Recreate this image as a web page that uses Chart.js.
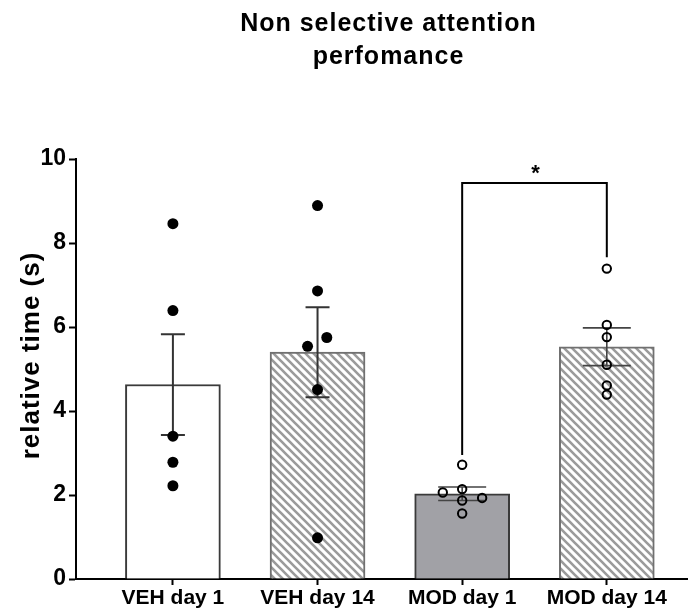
<!DOCTYPE html>
<html>
<head>
<meta charset="utf-8">
<script src="https://cdn.jsdelivr.net/npm/chart.js@4.4.1/dist/chart.umd.min.js"></script>
<style>
html,body{margin:0;padding:0;background:#fff;}
#wrap{width:694px;height:613px;position:relative;}
</style>
</head>
<body>
<div id="wrap"><canvas id="c" width="694" height="613"></canvas></div>
<script>
// ---- data ----
const categories = ['VEH day 1', 'VEH day 14', 'MOD day 1', 'MOD day 14'];
const means = [4.63, 5.40, 2.03, 5.53];
const sems = [1.20, 1.07, 0.16, 0.45];
const vehDay1 = [8.46, 6.39, 3.40, 2.78, 2.22];
const vehDay14 = [8.89, 6.86, 5.75, 5.54, 4.51, 0.98];
const modDay1 = [2.72, 2.14, 2.06, 1.87, 1.93, 1.56];
const modDay14 = [7.39, 6.05, 5.76, 5.10, 4.61, 4.39];
const yTicks = [0, 2, 4, 6, 8, 10];
const sigPair = [2, 3];
const sigLabel = '*';
const sigTop = 9.43;
const sigLegEnds = [2.95, 7.66];
const titleLines = ['Non selective attention', 'perfomance'];
const yTitle = 'relative time (s)';

// ---- styling (not data) ----
const FONT = "'Liberation Sans', Arial, Helvetica, sans-serif";
const dotOffsets = [
  [0, 0, 0, 0, 0],
  [0, 0, 0.064, -0.069, 0, 0],
  [0, 0, -0.134, 0, 0.138, 0],
  [0, 0, 0, 0, 0, 0]
];
const capHalf = [12, 12, 24, 24];

function hatchPattern() {
  const s = 8;
  const p = document.createElement('canvas');
  p.width = s; p.height = s;
  const g = p.getContext('2d');
  g.fillStyle = '#ffffff';
  g.fillRect(0, 0, s, s);
  g.strokeStyle = '#9b9b9b';
  g.lineWidth = 2.6;
  g.beginPath();
  g.moveTo(-2, -2); g.lineTo(s + 2, s + 2);
  g.moveTo(-2, s - 2); g.lineTo(2, s + 2);
  g.moveTo(s - 2, -2); g.lineTo(s + 2, 2);
  g.stroke();
  return g.createPattern(p, 'repeat');
}
const hatch = hatchPattern();

const groups = [vehDay1, vehDay14, modDay1, modDay14];
const scatterSets = groups.map((vals, gi) => ({
  type: 'scatter',
  data: vals.map((v, k) => ({ x: gi + dotOffsets[gi][k], y: v })),
  pointRadius: gi < 2 ? 5.5 : 4.2,
  pointHoverRadius: gi < 2 ? 5.5 : 4.2,
  pointBackgroundColor: gi < 2 ? '#000' : 'rgba(0,0,0,0)',
  pointBorderColor: '#000',
  pointBorderWidth: gi < 2 ? 0 : 2,
  showLine: false,
  order: 1
}));

function spacedText(ctx, text, cx, cy, spacing) {
  if ('letterSpacing' in ctx) {
    ctx.letterSpacing = spacing + 'px';
    const w = ctx.measureText(text).width - spacing;
    ctx.textAlign = 'left';
    ctx.fillText(text, cx - w / 2, cy);
    ctx.letterSpacing = '0px';
  } else {
    ctx.textAlign = 'center';
    ctx.fillText(text, cx, cy);
  }
}

const overlay = {
  id: 'overlay',
  afterDatasetDraw(chart, args) {
    if (args.index !== 0) return;
    const { ctx, scales: { x, y } } = chart;
    ctx.save();
    means.forEach((m, i) => {
      const cx = x.getPixelForValue(i);
      const top = y.getPixelForValue(m + sems[i]);
      const bot = y.getPixelForValue(m - sems[i]);
      ctx.strokeStyle = i < 2 ? '#333' : '#444';
      ctx.lineWidth = i < 2 ? 2 : 1.6;
      ctx.beginPath();
      ctx.moveTo(cx, top); ctx.lineTo(cx, bot);
      ctx.moveTo(cx - capHalf[i], top); ctx.lineTo(cx + capHalf[i], top);
      ctx.moveTo(cx - capHalf[i], bot); ctx.lineTo(cx + capHalf[i], bot);
      ctx.stroke();
    });
    ctx.restore();
  },
  afterDatasetsDraw(chart) {
    const { ctx, scales: { x, y } } = chart;
    ctx.save();
    const xl = x.getPixelForValue(sigPair[0]);
    const xr = x.getPixelForValue(sigPair[1]);
    const yt = y.getPixelForValue(sigTop);
    ctx.strokeStyle = '#000';
    ctx.lineWidth = 2;
    ctx.beginPath();
    ctx.moveTo(xl, y.getPixelForValue(sigLegEnds[0]));
    ctx.lineTo(xl, yt);
    ctx.lineTo(xr, yt);
    ctx.lineTo(xr, y.getPixelForValue(sigLegEnds[1]));
    ctx.stroke();
    ctx.fillStyle = '#000';
    ctx.font = 'bold 22px ' + FONT;
    ctx.textAlign = 'center';
    ctx.textBaseline = 'alphabetic';
    ctx.fillText(sigLabel, (xl + xr) / 2 + 1, yt - 3);
    ctx.restore();
  },
  afterDraw(chart) {
    const { ctx } = chart;
    ctx.save();
    ctx.fillStyle = '#000';
    ctx.textBaseline = 'alphabetic';
    ctx.font = 'bold 25px ' + FONT;
    spacedText(ctx, titleLines[0], 388, 31, 1);
    spacedText(ctx, titleLines[1], 388, 64, 1);
    ctx.translate(32, 356);
    ctx.rotate(-Math.PI / 2);
    ctx.textBaseline = 'middle';
    ctx.font = 'bold 26px ' + FONT;
    spacedText(ctx, yTitle, 0, 0, 1);
    ctx.restore();
  }
};

new Chart(document.getElementById('c'), {
  data: {
    datasets: [
      {
        type: 'bar',
        data: means.map((m, i) => ({ x: i, y: m })),
        backgroundColor: ['#ffffff', hatch, '#a1a1a6', hatch],
        borderColor: ['#3a3a3a', '#707070', '#3a3a3a', '#707070'],
        borderWidth: 2,
        borderSkipped: 'start',
        barThickness: 95,
        order: 3
      },
      ...scatterSets
    ]
  },
  options: {
    responsive: false,
    animation: false,
    events: [],
    layout: { padding: { top: 159, right: 6, bottom: 0, left: 0 } },
    plugins: { legend: { display: false }, tooltip: { enabled: false }, title: { display: false } },
    scales: {
      x: {
        type: 'linear',
        offset: false,
        min: -0.67,
        max: 3.56,
        afterBuildTicks: (a) => { a.ticks = categories.map((_, i) => ({ value: i })); },
        afterFit: (s) => { s.height = 34; },
        ticks: {
          callback: (v) => categories[v],
          font: { family: FONT, size: 21, weight: 'bold' },
          color: '#000',
          padding: 1,
          maxRotation: 0,
          autoSkip: false
        },
        grid: { display: true, offset: false, drawOnChartArea: false, drawTicks: true, tickLength: 6, tickColor: '#000', tickWidth: 2 },
        border: { display: true, color: '#000', width: 2 }
      },
      y: {
        min: 0,
        max: 10,
        afterBuildTicks: (a) => { a.ticks = yTicks.map(v => ({ value: v })); },
        afterFit: (s) => { s.width = 76; },
        ticks: {
          font: { family: FONT, size: 23, weight: 'bold' },
          color: '#000',
          padding: 3
        },
        grid: { display: true, drawOnChartArea: false, drawTicks: true, tickLength: 7, tickColor: '#000', tickWidth: 2 },
        border: { display: true, color: '#000', width: 2 }
      }
    }
  },
  plugins: [overlay]
});
</script>
</body>
</html>
